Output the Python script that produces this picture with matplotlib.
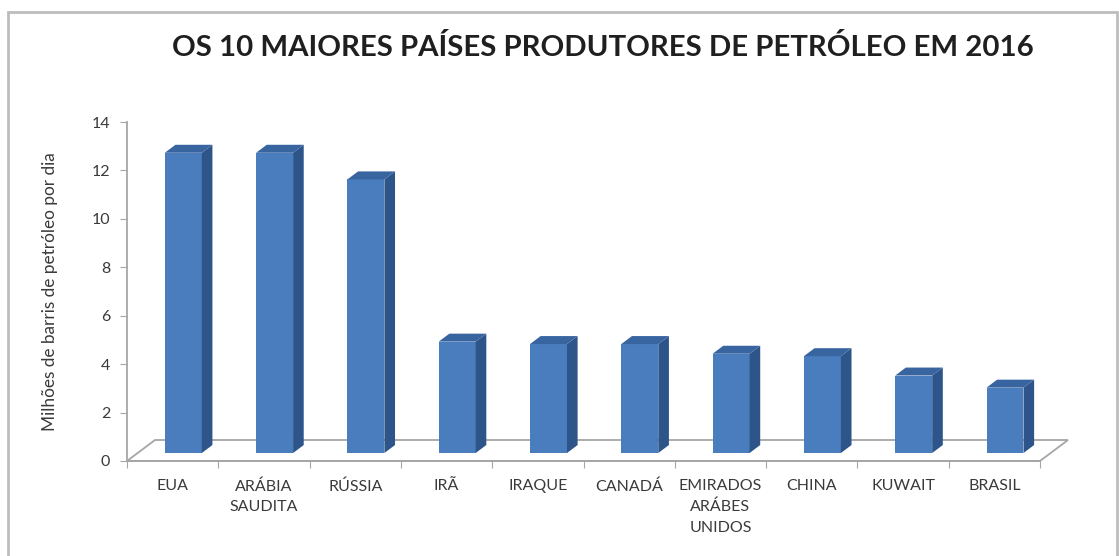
import numpy as np
import matplotlib
matplotlib.use("Agg")
import matplotlib.pyplot as plt
from matplotlib.patches import Rectangle

paises = ["EUA", "ARÁBIA\nSAUDITA", "RÚSSIA", "IRÃ", "IRAQUE", "CANADÁ",
          "EMIRADOS\nARÁBES\nUNIDOS", "CHINA", "KUWAIT", "BRASIL"]
producao = [12.4, 12.4, 11.3, 4.6, 4.5, 4.5, 4.1, 4.0, 3.2, 2.7]
yticks = [0, 2, 4, 6, 8, 10, 12, 14]

titulo = "OS 10 MAIORES PAÍSES PRODUTORES DE PETRÓLEO EM 2016"
ylabel = "Milhões de barris de petróleo por dia"

plt.rcParams['font.family'] = ['Lato', 'DejaVu Sans']

W, H = 1119, 556
fig = plt.figure(figsize=(W / 100, H / 100), dpi=100)
fig.patch.set_facecolor("white")

# moldura da area do grafico
fig.patches.append(Rectangle((8 / W, -0.02), (1117 - 8) / W, (H - 12) / H + 0.02,
                             transform=fig.transFigure, fill=False,
                             edgecolor="#bdbdbd", linewidth=2))

# eixo principal: x de 127px a 1070px, y de 461px (0) a 122px (14)
ax = fig.add_axes([127 / W, (H - 461) / H, 943 / W, 339 / H])
cat_px = 91.3
ax.set_xlim(0, 943 / cat_px)
ax.set_ylim(0, 14)

# profundidade do "3D"
DX = 28 / cat_px
DY = 21 / (339 / 14)

n = len(producao)
grid_c = "#a6a6a6"
txt_c = "#3a3a3a"

# piso
piso = plt.Polygon([(0, 0), (n, 0), (n + DX, DY), (DX, DY)], closed=True,
                   facecolor="white", edgecolor=grid_c, linewidth=1.3,
                   clip_on=False, zorder=1)
ax.add_patch(piso)

# barras
w = 0.405
f0 = 0.38   # posicao da face frontal na profundidade
d = 0.38    # espessura da barra
front_c = "#4a7dbd"
side_c = "#2d5589"
top_c = "#3864a0"
xs = np.arange(n) + 0.5
left = xs - w / 2 + f0 * DX
base = f0 * DY
ax.bar(left, producao, width=w, bottom=base, align="edge", color=front_c,
       edgecolor="none", zorder=3)
for xl, v in zip(left, producao):
    xr = xl + w
    ax.fill([xr, xr + d * DX, xr + d * DX, xr],
            [base, base + d * DY, base + d * DY + v, base + v],
            color=side_c, zorder=3, linewidth=0)
    ax.fill([xl, xr, xr + d * DX, xl + d * DX],
            [base + v, base + v, base + v + d * DY, base + v + d * DY],
            color=top_c, zorder=3, linewidth=0)

# eixos
for s in ["top", "right"]:
    ax.spines[s].set_visible(False)
ax.spines["left"].set_color(grid_c)
ax.spines["left"].set_linewidth(1.3)
ax.spines["bottom"].set_color(grid_c)
ax.spines["bottom"].set_linewidth(1.3)
ax.spines["bottom"].set_bounds(0, n)

ax.set_yticks(yticks)
ax.set_yticklabels([str(t) for t in yticks])
ax.tick_params(axis="y", direction="out", length=5, color=grid_c,
               labelsize=11.5, labelcolor=txt_c, pad=7)

ax.set_xticks(np.arange(n + 1))
ax.set_xticklabels([])
ax.tick_params(axis="x", which="major", direction="out", length=5,
               color=grid_c)
ax.set_xticks(xs, minor=True)
ax.set_xticklabels(paises, minor=True, linespacing=1.6)
ax.tick_params(axis="x", which="minor", length=0, labelsize=11.5,
               labelcolor=txt_c, pad=13)

ax.set_ylabel(ylabel, fontsize=12.4, color=txt_c, labelpad=24)
ax.set_facecolor("none")

fig.text(603 / W, 1 - 48 / H, titulo, ha="center", va="center",
         fontsize=21.2, fontweight="bold", color="#1f1f1f")

fig.savefig("out.png", dpi=100)
